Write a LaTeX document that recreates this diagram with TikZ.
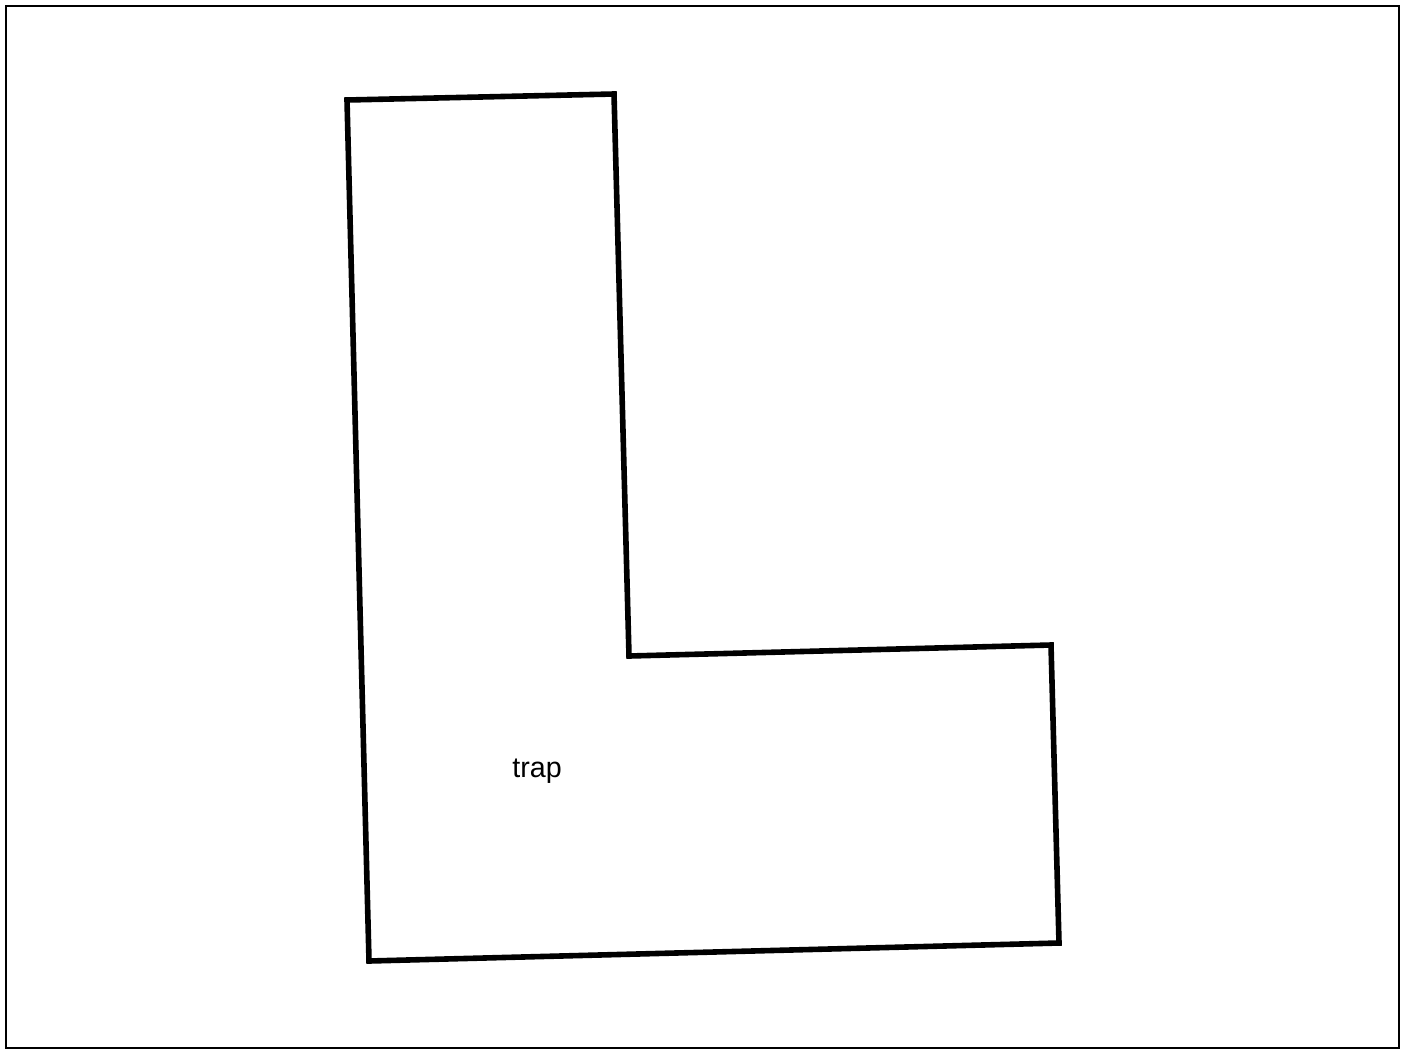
\documentclass[tikz,border=0pt]{standalone}
\usepackage{fontspec}
\setmainfont{Liberation Sans}
\begin{document}
\begin{tikzpicture}[x=0.75pt,y=-0.75pt,
  frame/.style={draw=black,line width=1.5pt},
  wall/.style={draw=black,line width=4.2pt,line join=miter},
  lbl/.style={font=\fontsize{21.5}{25}\selectfont,inner sep=0pt}]
\useasboundingbox (0,0) rectangle (1408,1050);
\draw[frame] (6,6) rectangle (1399,1048);
\coordinate (a) at (347,100);
\coordinate (b) at (614,94);
\coordinate (c) at (629,656);
\coordinate (d) at (1051,645);
\coordinate (e) at (1059,943);
\coordinate (f) at (369,961);
\draw[wall] (a) -- (b) -- (c) -- (d) -- (e) -- (f) -- cycle;
\node[lbl] (t) at (537,771) {trap};
\end{tikzpicture}
\end{document}
